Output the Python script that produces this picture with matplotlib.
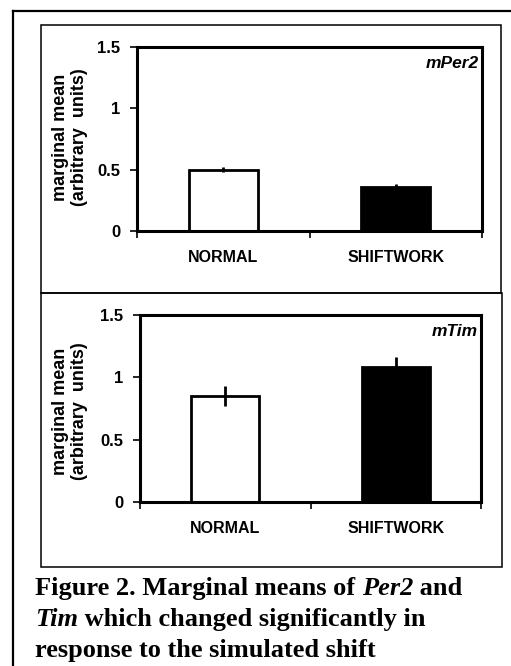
import matplotlib
matplotlib.use("agg")
import matplotlib.pyplot as plt
from matplotlib.lines import Line2D
from matplotlib.patches import Rectangle

categories = ['NORMAL', 'SHIFTWORK']
per2_means = [0.50, 0.36]
per2_err = [0.02, 0.02]
tim_means = [0.85, 1.08]
tim_err = [0.08, 0.08]
bar_colors = ['white', 'black']
y_ticks = [0, 0.5, 1, 1.5]
y_ticklabels = ['0', '0.5', '1', '1.5']

W, H = 511, 666
fig = plt.figure(figsize=(W / 100, H / 100), dpi=100)
sans = 'Liberation Sans'
serif = 'Liberation Serif'


def fx(px):
    return px / W


def fy(py):
    return 1 - py / H


# outer frame (right and bottom run off the page)
fig.add_artist(Line2D([fx(13), fx(13)], [fy(11), fy(670)], color='black', lw=1.6))
fig.add_artist(Line2D([fx(13), fx(515)], [fy(11), fy(11)], color='black', lw=1.6))

# panel boxes
for x0, y0, x1, y1 in [(41, 25, 501, 293), (41, 293, 502, 567)]:
    fig.add_artist(Rectangle((fx(x0), fy(y1)), fx(x1) - fx(x0), fy(y0) - fy(y1),
                             transform=fig.transFigure, fill=False,
                             edgecolor='black', lw=1.1))


def panel(box, means, errs, gene, label_y):
    x0, y0, x1, y1 = box
    ax = fig.add_axes([fx(x0), fy(y1), fx(x1) - fx(x0), fy(y0) - fy(y1)])
    x = range(len(categories))
    ax.bar(x, means, width=0.4, color=bar_colors, edgecolor='black', linewidth=2, zorder=2)
    ax.errorbar(x, means, yerr=errs, fmt='none', ecolor='black', elinewidth=2, capsize=0, zorder=3)
    ax.set_xlim(-0.5, 1.5)
    ax.set_ylim(0, 1.5)
    ax.set_yticks(y_ticks)
    ax.set_yticklabels(y_ticklabels, fontfamily=sans, fontweight='bold', fontsize=12)
    ax.set_xticks([-0.5, 0.5, 1.5])
    ax.set_xticklabels([])
    ax.set_xticks([0, 1], minor=True)
    ax.set_xticklabels(categories, minor=True, fontfamily=sans, fontweight='bold', fontsize=11.5)
    ax.tick_params(axis='x', which='minor', length=0, pad=14)
    ax.tick_params(axis='both', which='major', direction='out', length=5, width=1.2)
    ax.tick_params(axis='y', pad=7)
    for s in ax.spines.values():
        s.set_linewidth(2.2)
    ax.text(0.99, 0.91, gene, transform=ax.transAxes, ha='right', va='center',
            fontfamily=sans, fontweight='bold', fontstyle='italic', fontsize=12.5)
    fig.text(fx(70), fy(label_y), 'marginal mean\n(arbitrary  units)', rotation=90,
             ha='center', va='center', multialignment='center', fontfamily=sans,
             fontweight='bold', fontsize=13, linespacing=1.15)
    return ax


panel((137, 47, 482, 231), per2_means, per2_err, 'mPer2', 137)
panel((140, 315, 481, 502), tim_means, tim_err, 'mTim', 411)

# caption with italic gene names
caption = [
    [('Figure 2. Marginal means of ', 'normal'), ('Per2', 'italic'), (' and', 'normal')],
    [('Tim', 'italic'), (' which changed significantly in', 'normal')],
    [('response to the simulated shift', 'normal')],
]
renderer = fig.canvas.get_renderer()
baselines = [595, 626, 657]
for line, base in zip(caption, baselines):
    xpos = 35
    for txt, style in line:
        t = fig.text(fx(xpos), fy(base), txt, fontfamily=serif, fontweight='bold',
                     fontstyle=style, fontsize=19, va='baseline', ha='left')
        bb = t.get_window_extent(renderer=renderer)
        xpos += bb.width

fig.savefig('out.png', dpi=100)
